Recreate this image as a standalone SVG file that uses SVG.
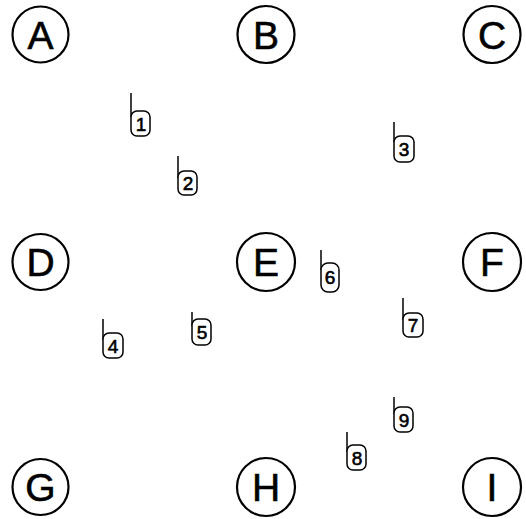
<svg xmlns="http://www.w3.org/2000/svg" width="526" height="519" viewBox="0 0 526 519">
<style>
.c{fill:#fff;stroke:#000;stroke-width:2.2}
.cl{font-family:"Liberation Sans",Arial,sans-serif;font-size:39px;fill:#000;text-anchor:middle;stroke:#000;stroke-width:0.6}
.t{fill:#fff;stroke:#000;stroke-width:1.5}
.s{fill:none;stroke:#000;stroke-width:1.5}
.tl{font-family:"Liberation Sans",Arial,sans-serif;font-size:19px;fill:#000;text-anchor:middle;stroke:#000;stroke-width:0.6}
</style>
<rect width="526" height="519" fill="#fff"/>
<g id="A"><circle class="c" cx="40.5" cy="34.5" r="28"/><text class="cl" x="40.5" y="48.5">A</text></g>
<g id="B"><circle class="c" cx="266" cy="34.5" r="28.5"/><text class="cl" x="266" y="48.5">B</text></g>
<g id="C"><circle class="c" cx="492" cy="34.5" r="28.5"/><text class="cl" x="492" y="48.5">C</text></g>
<g id="D"><circle class="c" cx="40.5" cy="262" r="28"/><text class="cl" x="40.5" y="276">D</text></g>
<g id="E"><circle class="c" cx="266" cy="262" r="29"/><text class="cl" x="266" y="276">E</text></g>
<g id="F"><circle class="c" cx="492" cy="262" r="29"/><text class="cl" x="492" y="276">F</text></g>
<g id="G"><circle class="c" cx="40.5" cy="487" r="28"/><text class="cl" x="40.5" y="501">G</text></g>
<g id="H"><circle class="c" cx="266" cy="487" r="29"/><text class="cl" x="266" y="501">H</text></g>
<g id="I"><circle class="c" cx="492" cy="487" r="29"/><text class="cl" x="492" y="501">I</text></g>
<g id="connectors"></g>
<g id="tag1"><path class="s" d="M131 93V117"/><rect class="t" x="131" y="111" width="19" height="25" rx="6"/><text class="tl" x="141" y="130.5">1</text></g>
<g id="tag2"><path class="s" d="M178 156V178"/><rect class="t" x="178" y="171" width="19" height="24" rx="6"/><text class="tl" x="188" y="190">2</text></g>
<g id="tag3"><path class="s" d="M394 122V142"/><rect class="t" x="394" y="136" width="20" height="26" rx="6"/><text class="tl" x="404" y="156">3</text></g>
<g id="tag4"><path class="s" d="M103 319V340"/><rect class="t" x="103" y="333" width="20" height="25" rx="6"/><text class="tl" x="113" y="352.5">4</text></g>
<g id="tag5"><path class="s" d="M192 312V326"/><rect class="t" x="192" y="319" width="19" height="26" rx="6"/><text class="tl" x="202" y="339">5</text></g>
<g id="tag6"><path class="s" d="M321 250V270"/><rect class="t" x="321" y="263" width="18" height="29" rx="7"/><text class="tl" x="330" y="284">6</text></g>
<g id="tag7"><path class="s" d="M403 298V320"/><rect class="t" x="403" y="313" width="20" height="24" rx="6"/><text class="tl" x="413" y="332">7</text></g>
<g id="tag8"><path class="s" d="M347 432V452"/><rect class="t" x="347" y="445" width="19" height="25" rx="6"/><text class="tl" x="357" y="464.5">8</text></g>
<g id="tag9"><path class="s" d="M394 397V414"/><rect class="t" x="394" y="407" width="19" height="25" rx="6"/><text class="tl" x="404" y="426.5">9</text></g>
</svg>
